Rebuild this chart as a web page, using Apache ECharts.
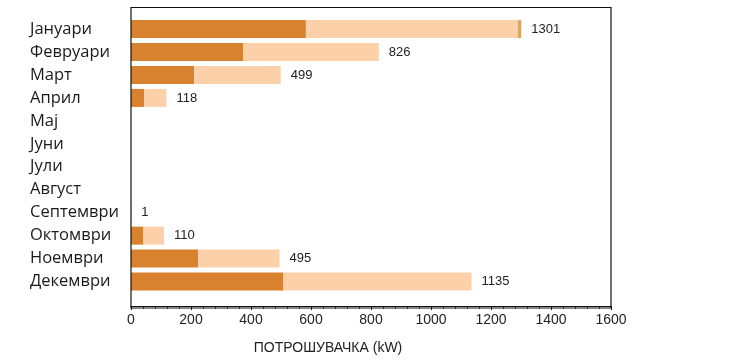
<!DOCTYPE html>
<html><head><meta charset="utf-8">
<script src="https://cdn.jsdelivr.net/npm/echarts@6/dist/echarts.min.js"></script>
<style>html,body{margin:0;padding:0;background:#fff}#c{width:742px;height:360px}</style>
</head><body><div id="c"></div>
<script>
const months = ['Јануари','Февруари','Март','Април','Мај','Јуни','Јули','Август','Септември','Октомври','Ноември','Декември'];
const darkPart = [583, 374, 211, 44, 0, 0, 0, 0, 0, 41, 224, 508];
const lightPart = [706, 452, 288, 74, 0, 0, 0, 0, 1, 69, 271, 627];
const thirdPart = [12, 0, 0, 0, 0, 0, 0, 0, 0, 0, 0, 0];
const totals = [1301, 826, 499, 118, 0, 0, 0, 0, 1, 110, 495, 1135];
const xTicks = [0, 200, 400, 600, 800, 1000, 1200, 1400, 1600];

const chart = echarts.init(document.getElementById('c'));
const sans = '"Liberation Sans", Arial, sans-serif';
chart.setOption({
  animation: false,
  grid: {left: 131, right: 131, top: 17.6, bottom: 64.9},
  graphic: [{
    type: 'rect', shape: {x: 131, y: 7.5, width: 480, height: 300.5},
    style: {fill: 'none', stroke: '#111', lineWidth: 1.2}, silent: true, z: 100
  }],
  xAxis: {
    type: 'value', min: xTicks[0], max: xTicks[xTicks.length - 1], interval: 200,
    offset: 13,
    axisLine: {show: true, lineStyle: {color: '#111', width: 1.2}},
    axisTick: {show: true, length: 4, lineStyle: {color: '#111'}},
    minorTick: {show: true, splitNumber: 5, length: 2.5, lineStyle: {color: '#111'}},
    splitLine: {show: false},
    axisLabel: {color: '#222', fontFamily: sans, fontSize: 14, margin: 7, formatter: v => String(v)},
    name: 'ПОТРОШУВАЧКА (kW)', nameLocation: 'middle', nameGap: 35,
    nameTextStyle: {color: '#222', fontFamily: sans, fontSize: 14, padding: [0, 86, 0, 0]}
  },
  yAxis: {
    type: 'category', data: months, inverse: true,
    axisLine: {show: false}, axisTick: {show: false},
    axisLabel: {color: '#1a1a1a', fontFamily: '"Open Sans", sans-serif', fontSize: 16.5, align: 'left', margin: 101}
  },
  series: [
    {type: 'bar', stack: 't', data: darkPart, barWidth: 18, itemStyle: {color: '#d8822f'}},
    {type: 'bar', stack: 't', data: lightPart, barWidth: 18, itemStyle: {color: '#fdd0aa'}},
    {type: 'bar', stack: 't', data: thirdPart, barWidth: 18, itemStyle: {color: '#d9a862'},
     label: {show: true, position: 'right', distance: 10, color: '#222', fontFamily: sans, fontSize: 13,
       formatter: p => totals[p.dataIndex] ? String(totals[p.dataIndex]) : ''}}
  ]
});
</script></body></html>
